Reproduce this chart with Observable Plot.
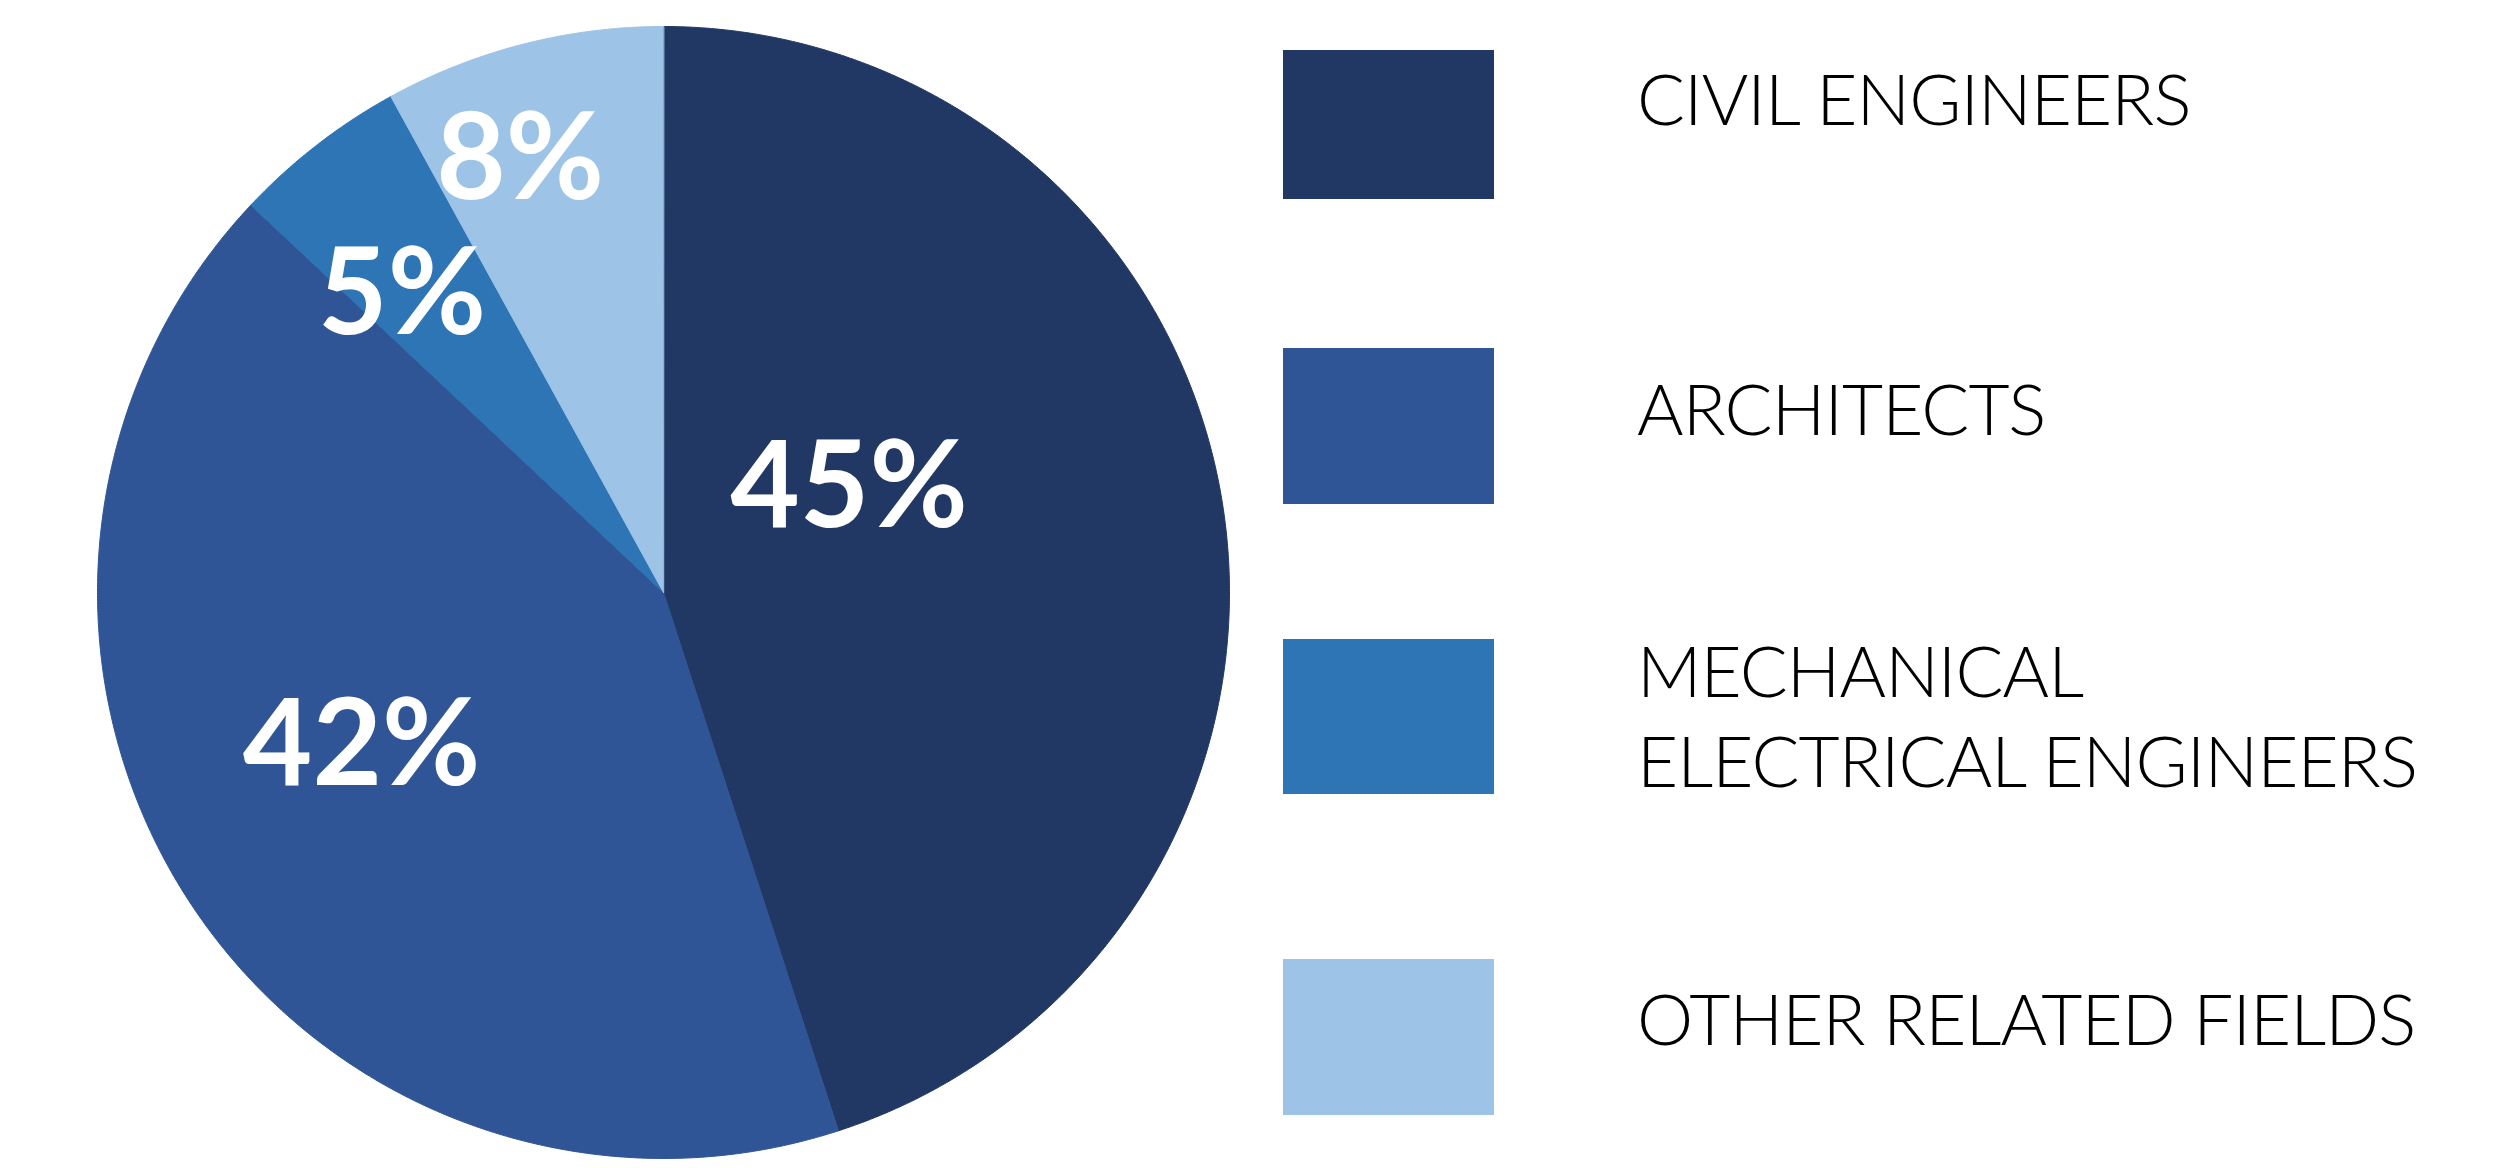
<!DOCTYPE html>
<html>
<head>
<meta charset="utf-8">
<script src="https://cdn.jsdelivr.net/npm/d3@7"></script>
<script src="https://cdn.jsdelivr.net/npm/@observablehq/plot@0.6"></script>
<style>
  html, body { margin: 0; padding: 0; background: #fff; }
  #wrap { position: relative; width: 2511px; height: 1168px; overflow: hidden; }
  #chart { position: absolute; left: 0; top: 0; }
  .sw { position: absolute; left: 1283px; width: 211px; }
  .lab { position: absolute; left: 1637px; font-family: Lato, "Open Sans", sans-serif; font-weight: 300;
         font-size: 71px; line-height: 90px; color: #000; white-space: pre; letter-spacing: -0.9px; }
</style>
</head>
<body>
<div id="wrap"><div id="chart"></div></div>
<script>
// ---- data ----
const categories = ["CIVIL ENGINEERS", "ARCHITECTS", "MECHANICAL\nELECTRICAL ENGINEERS", "OTHER RELATED FIELDS"];
const shares = [45, 42, 5, 8];
const shareLabels = ["45%", "42%", "5%", "8%"];
const colors = ["#213864", "#2F5596", "#2E75B6", "#9DC3E6"];

// ---- layout (styles / positions, not data) ----
const R = 566;                       // pie radius in px
const labelNudge = [[-94, -60], [-63, 2], [-88, -73], [-73, -158]]; // px tweaks from mid-angle anchor
const legendBoxes = [[50, 149], [348, 156], [639, 155], [959, 156]];
const legendTextTop = [53, 363, 625, 973];

// ---- build pie geometry from data ----
const arcs = d3.pie().sort(null).startAngle(0).endAngle(2 * Math.PI)(shares);
const pts = [];
arcs.forEach((a, i) => {
  const cat = categories[i];
  pts.push({cat, x: 0, y: 0});
  const n = Math.max(4, Math.ceil((a.endAngle - a.startAngle) / 0.005));
  for (let k = 0; k <= n; k++) {
    const t = a.startAngle + (a.endAngle - a.startAngle) * k / n;
    pts.push({cat, x: Math.sin(t), y: Math.cos(t)});
  }
});
const labelData = arcs.map((a, i) => {
  const m = (a.startAngle + a.endAngle) / 2;
  return {
    text: shareLabels[i],
    x: 0.5 * Math.sin(m) + labelNudge[i][0] / R,
    y: 0.5 * Math.cos(m) - labelNudge[i][1] / R
  };
});

const cx = 663, cy = 592, W = 1260, H = 1168;
const chart = Plot.plot({
  width: W,
  height: H,
  marginLeft: cx - R,
  marginRight: W - (cx + R),
  marginTop: cy - R,
  marginBottom: H - (cy + R),
  x: {domain: [-1, 1], axis: null},
  y: {domain: [-1, 1], axis: null},
  color: {domain: categories, range: colors},
  style: {background: "transparent"},
  marks: [
    Plot.line(pts, {x: "x", y: "y", z: "cat", fill: "cat", stroke: "cat", strokeWidth: 1, curve: "linear-closed"}),
    Plot.text(labelData, {x: "x", y: "y", text: "text", fill: "white", fontSize: 120,
      fontWeight: 700, fontFamily: "Lato, 'Open Sans', sans-serif", textAnchor: "middle", lineAnchor: "middle"})
  ]
});
document.getElementById("chart").appendChild(chart);

// ---- legend (HTML, to the right of the pie) ----
const colorScale = chart.scale("color");
const wrap = document.getElementById("wrap");
categories.forEach((c, i) => {
  const sw = document.createElement("div");
  sw.className = "sw";
  sw.style.top = legendBoxes[i][0] + "px";
  sw.style.height = legendBoxes[i][1] + "px";
  sw.style.background = colorScale.apply(c);
  wrap.appendChild(sw);
  const t = document.createElement("div");
  t.className = "lab";
  t.style.top = legendTextTop[i] + "px";
  t.textContent = c;
  wrap.appendChild(t);
});
</script>
</body>
</html>
